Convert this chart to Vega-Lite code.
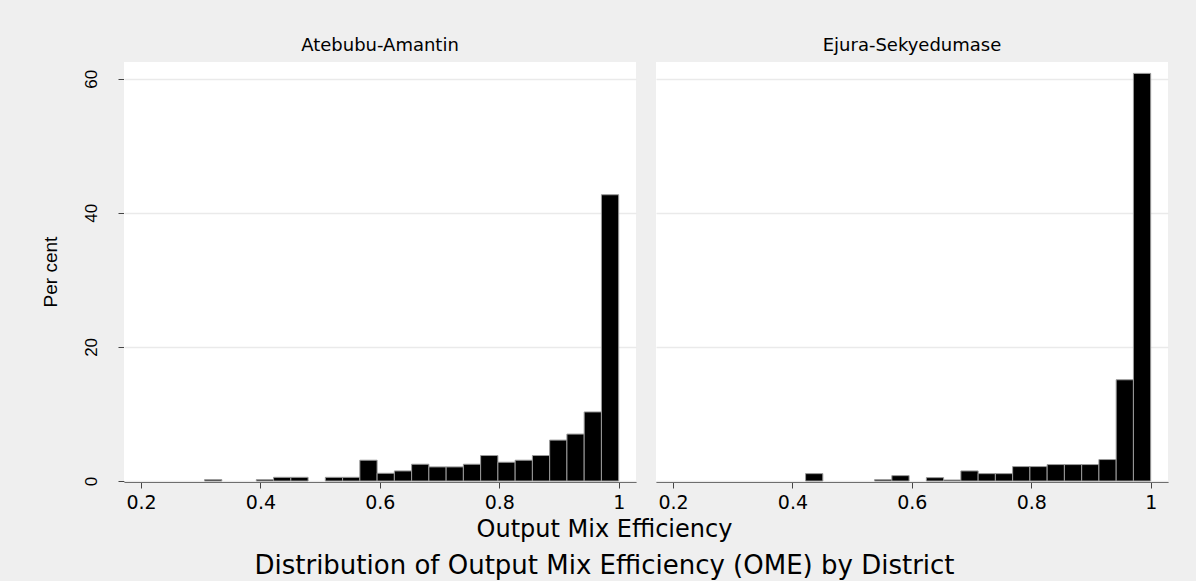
{
  "$schema": "https://vega.github.io/schema/vega-lite/v6.json",
  "background": "#efefef",
  "padding": {"left": 41, "top": 37, "right": 28, "bottom": 2},
  "data": {
    "values": [
      {"district": "Atebubu-Amantin", "bin_start": 0.3064, "bin_end": 0.3353, "percent": 0.2},
      {"district": "Atebubu-Amantin", "bin_start": 0.3931, "bin_end": 0.4220, "percent": 0.2},
      {"district": "Atebubu-Amantin", "bin_start": 0.4220, "bin_end": 0.4509, "percent": 0.55},
      {"district": "Atebubu-Amantin", "bin_start": 0.4509, "bin_end": 0.4798, "percent": 0.55},
      {"district": "Atebubu-Amantin", "bin_start": 0.5087, "bin_end": 0.5376, "percent": 0.55},
      {"district": "Atebubu-Amantin", "bin_start": 0.5376, "bin_end": 0.5665, "percent": 0.55},
      {"district": "Atebubu-Amantin", "bin_start": 0.5665, "bin_end": 0.5954, "percent": 3.1},
      {"district": "Atebubu-Amantin", "bin_start": 0.5954, "bin_end": 0.6243, "percent": 1.15},
      {"district": "Atebubu-Amantin", "bin_start": 0.6243, "bin_end": 0.6532, "percent": 1.5},
      {"district": "Atebubu-Amantin", "bin_start": 0.6532, "bin_end": 0.6821, "percent": 2.5},
      {"district": "Atebubu-Amantin", "bin_start": 0.6821, "bin_end": 0.7110, "percent": 2.1},
      {"district": "Atebubu-Amantin", "bin_start": 0.7110, "bin_end": 0.7399, "percent": 2.1},
      {"district": "Atebubu-Amantin", "bin_start": 0.7399, "bin_end": 0.7688, "percent": 2.5},
      {"district": "Atebubu-Amantin", "bin_start": 0.7688, "bin_end": 0.7977, "percent": 3.8},
      {"district": "Atebubu-Amantin", "bin_start": 0.7977, "bin_end": 0.8266, "percent": 2.8},
      {"district": "Atebubu-Amantin", "bin_start": 0.8266, "bin_end": 0.8555, "percent": 3.1},
      {"district": "Atebubu-Amantin", "bin_start": 0.8555, "bin_end": 0.8844, "percent": 3.8},
      {"district": "Atebubu-Amantin", "bin_start": 0.8844, "bin_end": 0.9133, "percent": 6.1},
      {"district": "Atebubu-Amantin", "bin_start": 0.9133, "bin_end": 0.9422, "percent": 7.0},
      {"district": "Atebubu-Amantin", "bin_start": 0.9422, "bin_end": 0.9711, "percent": 10.3},
      {"district": "Atebubu-Amantin", "bin_start": 0.9711, "bin_end": 1.0000, "percent": 42.7},
      {"district": "Ejura-Sekyedumase", "bin_start": 0.4220, "bin_end": 0.4509, "percent": 1.1},
      {"district": "Ejura-Sekyedumase", "bin_start": 0.5376, "bin_end": 0.5665, "percent": 0.2},
      {"district": "Ejura-Sekyedumase", "bin_start": 0.5665, "bin_end": 0.5954, "percent": 0.8},
      {"district": "Ejura-Sekyedumase", "bin_start": 0.6243, "bin_end": 0.6532, "percent": 0.5},
      {"district": "Ejura-Sekyedumase", "bin_start": 0.6532, "bin_end": 0.6821, "percent": 0.15},
      {"district": "Ejura-Sekyedumase", "bin_start": 0.6821, "bin_end": 0.7110, "percent": 1.5},
      {"district": "Ejura-Sekyedumase", "bin_start": 0.7110, "bin_end": 0.7399, "percent": 1.1},
      {"district": "Ejura-Sekyedumase", "bin_start": 0.7399, "bin_end": 0.7688, "percent": 1.1},
      {"district": "Ejura-Sekyedumase", "bin_start": 0.7688, "bin_end": 0.7977, "percent": 2.15},
      {"district": "Ejura-Sekyedumase", "bin_start": 0.7977, "bin_end": 0.8266, "percent": 2.15},
      {"district": "Ejura-Sekyedumase", "bin_start": 0.8266, "bin_end": 0.8555, "percent": 2.45},
      {"district": "Ejura-Sekyedumase", "bin_start": 0.8555, "bin_end": 0.8844, "percent": 2.45},
      {"district": "Ejura-Sekyedumase", "bin_start": 0.8844, "bin_end": 0.9133, "percent": 2.45},
      {"district": "Ejura-Sekyedumase", "bin_start": 0.9133, "bin_end": 0.9422, "percent": 3.2},
      {"district": "Ejura-Sekyedumase", "bin_start": 0.9422, "bin_end": 0.9711, "percent": 15.1},
      {"district": "Ejura-Sekyedumase", "bin_start": 0.9711, "bin_end": 1.0000, "percent": 60.8}
    ]
  },
  "facet": {
    "column": {
      "field": "district",
      "type": "nominal",
      "sort": ["Atebubu-Amantin", "Ejura-Sekyedumase"],
      "header": {
        "title": null,
        "labelFont": "DejaVu Sans",
        "labelFontSize": 18,
        "labelColor": "black",
        "labelPadding": 7
      }
    }
  },
  "spacing": 20,
  "spec": {
    "width": 512,
    "height": 419,
    "mark": {"type": "bar", "color": "black", "stroke": "#9a9a9a", "strokeWidth": 1},
    "encoding": {
      "x": {
        "field": "bin_start",
        "type": "quantitative",
        "scale": {"domain": [0.1715, 1.029], "nice": false, "zero": false},
        "axis": {
          "title": null,
          "values": [0.2, 0.4, 0.6, 0.8, 1],
          "format": ".1~f",
          "grid": false,
          "labelFont": "DejaVu Sans",
          "labelFontSize": 19,
          "labelColor": "black",
          "labelPadding": 5,
          "tickSize": 6,
          "tickColor": "#444444",
          "domainColor": "#444444",
          "labelFlush": false
        }
      },
      "x2": {"field": "bin_end"},
      "y": {
        "field": "percent",
        "type": "quantitative",
        "scale": {"domain": [0, 62.5], "nice": false},
        "axis": {
          "title": "Per cent",
          "titleFont": "Liberation Sans",
          "titleFontSize": 19,
          "titleFontWeight": "normal",
          "titleColor": "black",
          "titlePadding": 22,
          "values": [0, 20, 40, 60],
          "labelAngle": 270,
          "labelAlign": "center",
          "labelBaseline": "bottom",
          "labelFont": "Liberation Sans",
          "labelFontSize": 17,
          "labelColor": "black",
          "labelPadding": 18,
          "tickSize": 6,
          "tickColor": "#444444",
          "domainColor": "#444444",
          "grid": true,
          "gridColor": "#eaeaea",
          "gridWidth": 1.5
        }
      },
      "y2": {"datum": 0}
    }
  },
  "title": {
    "text": "Output Mix Efficiency",
    "subtitle": "Distribution of Output Mix Efficiency (OME) by District",
    "orient": "bottom",
    "anchor": "middle",
    "font": "DejaVu Sans",
    "fontSize": 24,
    "fontWeight": "normal",
    "color": "black",
    "subtitleFont": "DejaVu Sans",
    "subtitleFontSize": 26,
    "subtitleColor": "black",
    "subtitlePadding": 11,
    "offset": 6
  },
  "config": {
    "view": {"fill": "white", "stroke": null},
    "axis": {"labelFlush": false}
  }
}
